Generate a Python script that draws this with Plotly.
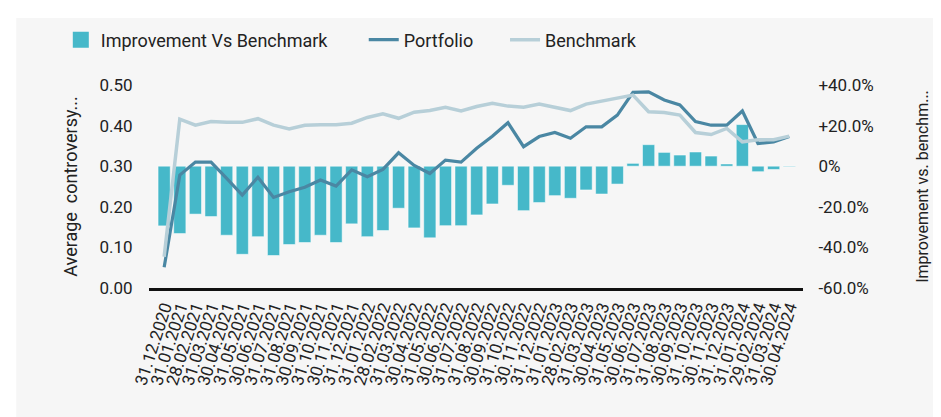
import plotly.graph_objects as go

dates = ["31.12.2020", "31.01.2021", "28.02.2021", "31.03.2021", "30.04.2021", "31.05.2021",
         "30.06.2021", "31.07.2021", "31.08.2021", "30.09.2021", "31.10.2021", "30.11.2021",
         "31.12.2021", "31.01.2022", "28.02.2022", "31.03.2022", "30.04.2022", "31.05.2022",
         "30.06.2022", "31.07.2022", "31.08.2022", "30.09.2022", "31.10.2022", "30.11.2022",
         "31.12.2022", "31.01.2023", "28.02.2023", "31.03.2023", "30.04.2023", "31.05.2023",
         "30.06.2023", "31.07.2023", "31.08.2023", "30.09.2023", "31.10.2023", "30.11.2023",
         "31.12.2023", "31.01.2024", "29.02.2024", "31.03.2024", "30.04.2024"]

portfolio = [0.051, 0.278, 0.310, 0.310, 0.270, 0.229, 0.273, 0.223, 0.237, 0.248,
             0.266, 0.251, 0.291, 0.274, 0.292, 0.333, 0.302, 0.282, 0.315, 0.310,
             0.344, 0.374, 0.407, 0.348, 0.373, 0.383, 0.369, 0.397, 0.397, 0.426,
             0.482, 0.483, 0.463, 0.451, 0.410, 0.401, 0.401, 0.436, 0.356, 0.360, 0.373]

benchmark = [0.077, 0.416, 0.401, 0.410, 0.408, 0.408, 0.417, 0.401, 0.392, 0.401,
             0.402, 0.402, 0.406, 0.420, 0.429, 0.418, 0.433, 0.437, 0.445, 0.436,
             0.447, 0.455, 0.448, 0.445, 0.453, 0.445, 0.437, 0.453, 0.461, 0.467,
             0.475, 0.434, 0.432, 0.426, 0.383, 0.378, 0.393, 0.360, 0.365, 0.365, 0.374]

improvement = [-0.294, -0.332, -0.236, -0.248, -0.340, -0.434, -0.347, -0.440, -0.386, -0.376,
               -0.340, -0.376, -0.284, -0.347, -0.317, -0.207, -0.304, -0.353, -0.293, -0.293,
               -0.240, -0.186, -0.094, -0.219, -0.179, -0.145, -0.158, -0.117, -0.137, -0.088,
               0.014, 0.106, 0.068, 0.055, 0.070, 0.050, 0.011, 0.205, -0.027, -0.016, -0.003]

right_ticks = [-0.6, -0.4, -0.2, 0.0, 0.2, 0.4]
right_ticktext = ["-60.0%", "-40.0%", "-20.0%", "0%", "+20.0%", "+40.0%"]
left_ticks = [0.0, 0.1, 0.2, 0.3, 0.4, 0.5]

x = list(range(len(dates)))

BAR = "#46b8c9"
PORT = "#4a87a3"
BENCH = "#b7cfd8"
PANEL = "#f6f6f6"
FONT = "Roboto, Arial, sans-serif"
NB = "\u00a0"

fig = go.Figure()
# legend-only square swatch for the bar series
fig.add_trace(go.Scatter(
    x=[None], y=[None], name="Improvement Vs Benchmark" + NB * 7, yaxis="y",
    mode="markers", marker=dict(symbol="square", size=16, color=BAR),
    legendgroup="imp", showlegend=True,
))
fig.add_trace(go.Bar(
    x=x, y=improvement, name="Improvement Vs Benchmark", yaxis="y",
    marker=dict(color=BAR, line=dict(color="rgba(255,255,255,0.5)", width=1)),
    width=0.78, legendgroup="imp", showlegend=False,
))
fig.add_trace(go.Scatter(
    x=x, y=portfolio, name="Portfolio" + NB * 6, yaxis="y2", mode="lines",
    line=dict(color=PORT, width=3.2),
))
fig.add_trace(go.Scatter(
    x=x, y=benchmark, name="Benchmark", yaxis="y2", mode="lines",
    line=dict(color=BENCH, width=3.5),
))

# page body has an 8px margin, so the figure sits at (8, 8) in the window
OFF = 8
W, H = 941 - OFF, 417 - OFF
L, T = 149 - OFF, 85 - OFF
R = W - (809 - OFF)
B = H - (288 - OFF)
pw, ph = W - L - R, H - T - B

def px_x(p):
    return (p - OFF - L) / pw

def px_y(p):
    return (H - B - (p - OFF)) / ph

fig.update_layout(
    width=W, height=H,
    margin=dict(l=L, r=R, t=T, b=B, pad=0),
    paper_bgcolor="white",
    plot_bgcolor="rgba(0,0,0,0)",
    font=dict(family=FONT, size=17, color="#222222"),
    barmode="relative",
    showlegend=True,
    legend=dict(
        orientation="h", x=px_x(60), xanchor="left", y=px_y(40), yanchor="middle",
        font=dict(size=18, color="#222222"), bgcolor="rgba(0,0,0,0)",
        traceorder="normal", itemclick=False, itemdoubleclick=False,
    ),
    xaxis=dict(
        range=[-0.97, 40.88], tickmode="array", tickvals=x, ticktext=dates,
        tickangle=-72, tickfont=dict(size=17, color="#222222"),
        showgrid=False, zeroline=False, showline=True, linecolor="#111111", linewidth=2.5,
        ticks="", fixedrange=True,
    ),
    yaxis=dict(
        side="right", range=[-0.6, 0.4], tickmode="array", tickvals=right_ticks,
        ticktext=right_ticktext, showgrid=False, zeroline=False, showline=False,
        ticks="outside", ticklen=11, tickcolor="rgba(0,0,0,0)",
        tickfont=dict(size=17, color="#222222"),
        title=dict(text="Improvement vs. benchm...", font=dict(size=16, color="#222222"), standoff=44),
    ),
    yaxis2=dict(
        overlaying="y", side="left", range=[0, 0.5], tickmode="array", tickvals=left_ticks,
        tickformat=".2f", showgrid=False, zeroline=False, showline=False,
        ticks="outside", ticklen=12, tickcolor="rgba(0,0,0,0)",
        tickfont=dict(size=17, color="#222222"),
        title=dict(text="Average\u00a0 controversy...", font=dict(size=18, color="#222222"), standoff=17),
    ),
    shapes=[dict(
        type="rect", xref="paper", yref="paper", layer="below",
        x0=px_x(15), x1=px_x(950), y0=px_y(420), y1=px_y(18),
        fillcolor=PANEL, line=dict(width=0),
    )],
)

fig.write_html("out.html")
